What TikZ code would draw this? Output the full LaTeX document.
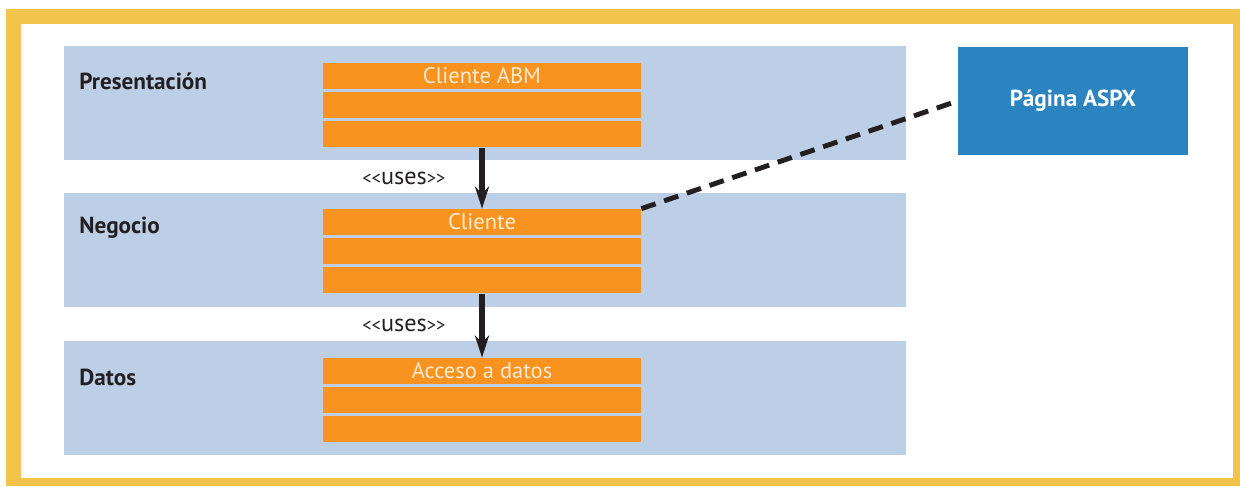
\documentclass[tikz,border=0pt]{standalone}
\usepackage{fontspec}
\setmainfont{PT Sans}
\usetikzlibrary{positioning,arrows.meta}
\definecolor{frameyellow}{HTML}{F2C44C}
\definecolor{layerblue}{HTML}{BCCFE6}
\definecolor{roworange}{HTML}{F7931E}
\definecolor{pageblue}{HTML}{2B83C0}
\definecolor{inkblack}{HTML}{231F20}
\definecolor{rowtext}{HTML}{FDEBD3}
\newcommand{\usesmark}{{\fontsize{10.5}{11}\selectfont<\kern0pt<}uses{\fontsize{10.5}{11}\selectfont>\kern0pt>}}
\tikzset{
  >={Stealth},
  layer/.style={fill=layerblue, minimum width=16.84cm, minimum height=2.28cm, inner sep=0pt},
  row/.style={fill=roworange, minimum width=6.36cm, minimum height=0.52cm, inner sep=0pt,
              text=rowtext, font=\fontsize{12.8}{13}\selectfont},
  page/.style={fill=pageblue, minimum width=4.6cm, minimum height=2.16cm, inner sep=0pt,
               text=white, font=\fontsize{13.2}{14}\selectfont\bfseries},
  lab/.style={anchor=west, inner sep=0pt, text=inkblack, font=\fontsize{13.2}{14}\selectfont\bfseries},
  uses/.style={inner sep=0pt, text=inkblack, font=\fontsize{13.8}{14}\selectfont},
  flow/.style={-{Stealth[length=4.4mm,width=2.8mm,inset=1.4mm]}, line width=2.9pt, inkblack},
  link/.style={line width=2.8pt, inkblack, dash pattern=on 3mm off 1.8mm}
}

\begin{document}
\begin{tikzpicture}
\useasboundingbox (0,0) rectangle (24.8,9.72);
% frame
\fill[frameyellow] (0.12,0) rectangle (24.8,9.54);
\fill[white] (0.42,0.16) rectangle (24.66,9.24);
% layers
\node[layer] (pres) at (9.70,7.66) {};
\node[layer] (neg) at (9.70,4.72) {};
\node[layer] (dat) at (9.70,1.76) {};
\node[lab] (presl) at (1.58,8.10) {Presentación};
\node[lab] (negl) at (1.58,5.16) {Negocio};
\node[lab] (datl) at (1.58,2.18) {Datos};
% classes
\node[row] (pres1) at (9.64,8.20) {Cliente ABM};
\node[row, below=0.05cm of pres1] (pres2) {};
\node[row, below=0.05cm of pres2] (pres3) {};
\node[row] (neg1) at (9.64,5.28) {Cliente};
\node[row, below=0.05cm of neg1] (neg2) {};
\node[row, below=0.05cm of neg2] (neg3) {};
\node[row] (dat1) at (9.64,2.30) {Acceso a datos};
\node[row, below=0.05cm of dat1] (dat2) {};
\node[row, below=0.05cm of dat2] (dat3) {};
\node[page] (aspx) at (21.46,7.70) {Página ASPX};
% dependencies
\draw[flow] (pres3) -- node[left=6.8mm, uses]{\usesmark} (neg1);
\draw[flow] (neg3) -- node[left=6.8mm, uses]{\usesmark} (dat1);
\draw[link] (neg1.north east) -- (aspx.west);
\end{tikzpicture}
\end{document}
